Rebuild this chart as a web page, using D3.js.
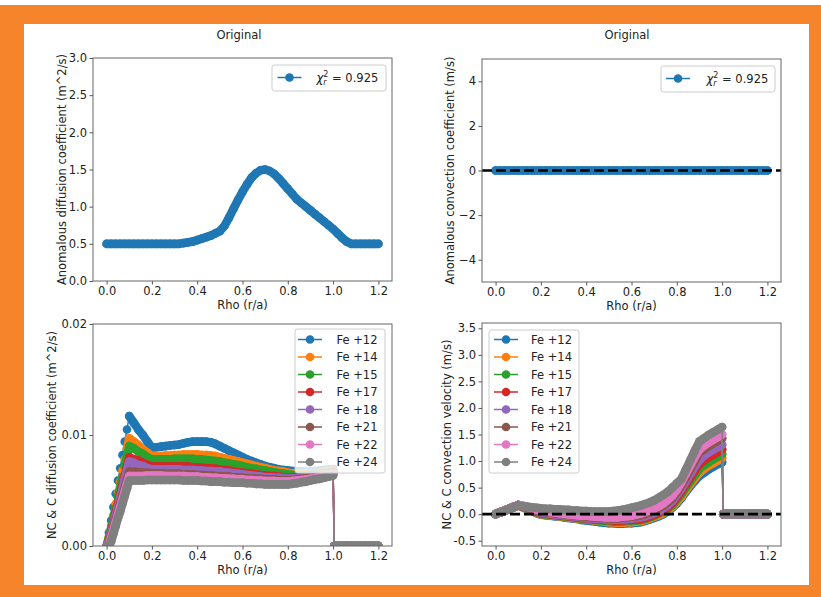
<!DOCTYPE html>
<html>
<head>
<meta charset="utf-8">
<title>Transport coefficients</title>
<script src="https://cdn.jsdelivr.net/npm/d3@7"></script>
<style>
  body { margin: 0; background: #fff; }
  svg text { font-family: "DejaVu Sans", sans-serif; fill: #222; }
</style>
</head>
<body>
<script>
// ---- data ----
var rhoTop = [0, 0.02, 0.04, 0.06, 0.08, 0.1, 0.12, 0.14, 0.16, 0.18, 0.2, 0.22, 0.24, 0.26, 0.28, 0.3,
  0.32, 0.34, 0.36, 0.38, 0.4, 0.42, 0.44, 0.46, 0.48, 0.5, 0.52, 0.54, 0.56, 0.58, 0.6, 0.62, 0.64,
  0.66, 0.68, 0.7, 0.72, 0.74, 0.76, 0.78, 0.8, 0.82, 0.84, 0.86, 0.88, 0.9, 0.92, 0.94, 0.96, 0.98,
  1.0, 1.02, 1.04, 1.06, 1.08, 1.1, 1.12, 1.14, 1.16, 1.18, 1.2];

// anomalous diffusion (m^2/s)
var dAnom = [0.5, 0.5, 0.5, 0.5, 0.5, 0.5, 0.5, 0.5, 0.5, 0.5, 0.5, 0.5, 0.5, 0.5, 0.5, 0.5, 0.5,
  0.51, 0.52, 0.53, 0.55, 0.57, 0.59, 0.61, 0.64, 0.67,
  0.74, 0.85, 0.97, 1.09, 1.2, 1.3, 1.39, 1.45, 1.49, 1.5,
  1.48, 1.44, 1.38, 1.31, 1.24, 1.17, 1.1, 1.05, 1.0, 0.95,
  0.9, 0.85, 0.8, 0.75, 0.7, 0.64, 0.58, 0.53, 0.5,
  0.5, 0.5, 0.5, 0.5, 0.5, 0.5];

// anomalous convection (m/s)
var vAnom = [0, 0, 0, 0, 0, 0, 0, 0, 0, 0, 0, 0, 0, 0, 0, 0, 0, 0, 0, 0, 0, 0, 0, 0, 0, 0, 0, 0, 0, 0,
  0, 0, 0, 0, 0, 0, 0, 0, 0, 0, 0, 0, 0, 0, 0, 0, 0, 0, 0, 0, 0, 0, 0, 0, 0, 0, 0, 0, 0, 0, 0];

var chiLabel = "0.925";

var rhoNC = [0, 0.01, 0.02, 0.03, 0.04, 0.05, 0.06, 0.07, 0.08, 0.09, 0.1,
  0.12, 0.14, 0.16, 0.18, 0.2,
  0.22, 0.24, 0.26, 0.28, 0.3, 0.32, 0.34, 0.36, 0.38, 0.4,
  0.42, 0.44, 0.46, 0.48, 0.5, 0.52, 0.54, 0.56, 0.58, 0.6,
  0.62, 0.64, 0.66, 0.68, 0.7, 0.72, 0.74, 0.76, 0.78, 0.8,
  0.82, 0.84, 0.86, 0.88, 0.9, 0.92, 0.94, 0.96, 0.98, 1.0,
  1.005, 1.02, 1.04, 1.06, 1.08, 1.1, 1.12, 1.14, 1.16, 1.18, 1.2];

var ionNames = ["Fe +12", "Fe +14", "Fe +15", "Fe +17", "Fe +18", "Fe +21", "Fe +22", "Fe +24"];
var ionColors = ["#1f77b4", "#ff7f0e", "#2ca02c", "#d62728", "#9467bd", "#8c564b", "#e377c2", "#7f7f7f"];

// NC & C diffusion, in units of 1e-3 m^2/s
var dFe12 = [0, 1.2, 2.3, 3.5, 4.7, 5.9, 7.0, 8.2, 9.4, 10.5, 11.7,
  11.1, 10.5, 10.0, 9.4, 8.85,
  8.9, 8.95, 9.0, 9.05, 9.1, 9.15, 9.25, 9.35, 9.4, 9.4,
  9.4, 9.4, 9.35, 9.2, 9.0, 8.8, 8.6, 8.4, 8.2, 8.0,
  7.8, 7.65, 7.5, 7.35, 7.2, 7.1, 7.0, 6.9, 6.85, 6.8,
  6.75, 6.7, 6.7, 6.7, 6.7, 6.75, 6.8, 6.85, 6.9, 6.9,
  0, 0, 0, 0, 0, 0, 0, 0, 0, 0, 0];
var dFe14 = [0, 0.8, 1.8, 2.8, 3.8, 4.8, 5.8, 6.8, 7.8, 8.8, 9.7,
  9.4, 9.1, 8.7, 8.4, 8.1,
  8.1, 8.1, 8.15, 8.15, 8.2, 8.2, 8.25, 8.25, 8.25, 8.25,
  8.2, 8.2, 8.15, 8.1, 8.0, 7.9, 7.8, 7.7, 7.6, 7.5,
  7.4, 7.3, 7.2, 7.1, 7.0, 6.9, 6.8, 6.75, 6.7, 6.6,
  6.55, 6.5, 6.5, 6.5, 6.5, 6.55, 6.6, 6.7, 6.75, 6.8,
  0, 0, 0, 0, 0, 0, 0, 0, 0, 0, 0];
var dFe15 = [0, 0.7, 1.6, 2.5, 3.4, 4.4, 5.3, 6.2, 7.2, 8.1, 9.0,
  8.8, 8.5, 8.3, 8.0, 7.8,
  7.8, 7.8, 7.8, 7.8, 7.85, 7.85, 7.85, 7.85, 7.85, 7.8,
  7.8, 7.75, 7.7, 7.65, 7.6, 7.5, 7.45, 7.35, 7.3, 7.2,
  7.1, 7.0, 6.95, 6.85, 6.8, 6.7, 6.65, 6.55, 6.5, 6.45,
  6.4, 6.4, 6.4, 6.4, 6.45, 6.5, 6.55, 6.6, 6.65, 6.7,
  0, 0, 0, 0, 0, 0, 0, 0, 0, 0, 0];
var dFe17 = [0, 0.5, 1.3, 2.1, 2.9, 3.8, 4.6, 5.4, 6.3, 7.1, 8.0,
  7.8, 7.7, 7.5, 7.3, 7.15,
  7.15, 7.15, 7.15, 7.15, 7.15, 7.15, 7.15, 7.15, 7.1, 7.1,
  7.05, 7.0, 7.0, 6.95, 6.9, 6.85, 6.8, 6.7, 6.65, 6.6,
  6.55, 6.5, 6.45, 6.4, 6.35, 6.3, 6.3, 6.25, 6.2, 6.2,
  6.2, 6.2, 6.2, 6.25, 6.3, 6.35, 6.4, 6.5, 6.55, 6.6,
  0, 0, 0, 0, 0, 0, 0, 0, 0, 0, 0];
var dFe18 = [0, 0.4, 1.2, 1.9, 2.7, 3.5, 4.3, 5.1, 6.0, 6.8, 7.6,
  7.5, 7.3, 7.2, 7.0, 6.9,
  6.9, 6.9, 6.9, 6.9, 6.9, 6.9, 6.85, 6.85, 6.85, 6.8,
  6.8, 6.75, 6.75, 6.7, 6.7, 6.65, 6.6, 6.55, 6.5, 6.45,
  6.4, 6.35, 6.3, 6.25, 6.2, 6.2, 6.15, 6.15, 6.1, 6.1,
  6.1, 6.1, 6.15, 6.2, 6.25, 6.3, 6.35, 6.45, 6.5, 6.55,
  0, 0, 0, 0, 0, 0, 0, 0, 0, 0, 0];
var dFe21 = [0, 0.2, 0.9, 1.6, 2.3, 3.0, 3.8, 4.5, 5.2, 6.0, 6.7,
  6.7, 6.65, 6.6, 6.6, 6.55,
  6.55, 6.55, 6.5, 6.5, 6.5, 6.5, 6.45, 6.45, 6.45, 6.4,
  6.4, 6.35, 6.35, 6.3, 6.3, 6.25, 6.25, 6.2, 6.2, 6.15,
  6.1, 6.1, 6.05, 6.05, 6.0, 6.0, 6.0, 5.95, 5.95, 5.95,
  5.95, 6.0, 6.05, 6.1, 6.15, 6.2, 6.25, 6.35, 6.4, 6.5,
  0, 0, 0, 0, 0, 0, 0, 0, 0, 0, 0];
var dFe22 = [0, 0.1, 0.7, 1.4, 2.1, 2.8, 3.5, 4.2, 4.9, 5.6, 6.3,
  6.3, 6.3, 6.3, 6.35, 6.35,
  6.35, 6.35, 6.3, 6.3, 6.3, 6.3, 6.3, 6.25, 6.25, 6.25,
  6.2, 6.2, 6.15, 6.15, 6.1, 6.1, 6.05, 6.05, 6.0, 6.0,
  5.95, 5.95, 5.9, 5.9, 5.85, 5.85, 5.85, 5.8, 5.8, 5.8,
  5.85, 5.9, 5.95, 6.0, 6.05, 6.1, 6.2, 6.3, 6.35, 6.45,
  0, 0, 0, 0, 0, 0, 0, 0, 0, 0, 0];
var dFe24 = [0, 0, 0.4, 1.1, 1.8, 2.5, 3.1, 3.8, 4.5, 5.2, 5.9,
  5.9, 5.9, 5.9, 5.95, 5.95,
  5.95, 5.95, 5.95, 5.95, 5.95, 5.95, 5.9, 5.9, 5.9, 5.9,
  5.85, 5.85, 5.8, 5.8, 5.8, 5.75, 5.75, 5.7, 5.7, 5.7,
  5.65, 5.65, 5.6, 5.6, 5.55, 5.55, 5.55, 5.55, 5.55, 5.55,
  5.6, 5.65, 5.75, 5.8, 5.9, 6.0, 6.05, 6.15, 6.25, 6.35,
  0, 0, 0, 0, 0, 0, 0, 0, 0, 0, 0];

// NC & C convection velocity (m/s)
var vFe12 = [0, 0.02, 0.03, 0.05, 0.07, 0.08, 0.1, 0.12, 0.13, 0.15, 0.17,
  0.13, 0.09, 0.06, 0.02, -0.01,
  -0.02, -0.03, -0.04, -0.05, -0.06, -0.07, -0.08, -0.09, -0.11, -0.12,
  -0.13, -0.14, -0.15, -0.16, -0.17, -0.17, -0.18, -0.18, -0.17, -0.17,
  -0.16, -0.15, -0.13, -0.1, -0.07, -0.04, 0.0, 0.05, 0.12, 0.2,
  0.3, 0.42, 0.53, 0.63, 0.72, 0.78, 0.84, 0.89, 0.94, 0.98,
  0, 0, 0, 0, 0, 0, 0, 0, 0, 0, 0];
var vFe14 = [0, 0.02, 0.03, 0.05, 0.07, 0.08, 0.1, 0.12, 0.13, 0.15, 0.17,
  0.13, 0.1, 0.07, 0.03, 0.0,
  -0.01, -0.02, -0.03, -0.04, -0.05, -0.06, -0.07, -0.08, -0.09, -0.1,
  -0.11, -0.12, -0.13, -0.14, -0.15, -0.15, -0.16, -0.16, -0.15, -0.15,
  -0.14, -0.13, -0.11, -0.08, -0.05, -0.02, 0.02, 0.07, 0.14, 0.23,
  0.33, 0.45, 0.57, 0.68, 0.78, 0.85, 0.91, 0.96, 1.01, 1.06,
  0, 0, 0, 0, 0, 0, 0, 0, 0, 0, 0];
var vFe15 = [0, 0.02, 0.03, 0.05, 0.07, 0.08, 0.1, 0.12, 0.14, 0.15, 0.17,
  0.14, 0.11, 0.08, 0.04, 0.01,
  0.0, -0.01, -0.02, -0.03, -0.04, -0.05, -0.06, -0.07, -0.08, -0.09,
  -0.1, -0.11, -0.12, -0.13, -0.13, -0.14, -0.14, -0.14, -0.13, -0.13,
  -0.12, -0.11, -0.09, -0.06, -0.03, 0.01, 0.05, 0.1, 0.17, 0.27,
  0.38, 0.5, 0.62, 0.74, 0.85, 0.92, 0.98, 1.03, 1.08, 1.13,
  0, 0, 0, 0, 0, 0, 0, 0, 0, 0, 0];
var vFe17 = [0, 0.02, 0.03, 0.05, 0.07, 0.08, 0.1, 0.12, 0.14, 0.15, 0.17,
  0.14, 0.12, 0.09, 0.05, 0.02,
  0.01, 0.0, -0.01, -0.02, -0.03, -0.04, -0.05, -0.06, -0.07, -0.08,
  -0.09, -0.1, -0.1, -0.11, -0.11, -0.12, -0.12, -0.12, -0.11, -0.11,
  -0.1, -0.09, -0.07, -0.04, -0.01, 0.03, 0.07, 0.13, 0.21, 0.31,
  0.43, 0.56, 0.69, 0.82, 0.94, 1.01, 1.07, 1.12, 1.17, 1.22,
  0, 0, 0, 0, 0, 0, 0, 0, 0, 0, 0];
var vFe18 = [0, 0.02, 0.03, 0.05, 0.07, 0.09, 0.1, 0.12, 0.14, 0.15, 0.17,
  0.15, 0.12, 0.1, 0.07, 0.03,
  0.02, 0.01, 0.0, -0.01, -0.02, -0.03, -0.04, -0.05, -0.06, -0.07,
  -0.08, -0.08, -0.09, -0.09, -0.1, -0.1, -0.1, -0.1, -0.09, -0.08,
  -0.07, -0.06, -0.04, -0.01, 0.02, 0.06, 0.11, 0.17, 0.25, 0.36,
  0.48, 0.62, 0.76, 0.9, 1.02, 1.1, 1.16, 1.21, 1.26, 1.31,
  0, 0, 0, 0, 0, 0, 0, 0, 0, 0, 0];
var vFe21 = [0, 0.02, 0.04, 0.05, 0.07, 0.09, 0.1, 0.12, 0.14, 0.15, 0.17,
  0.15, 0.13, 0.11, 0.08, 0.05,
  0.04, 0.03, 0.02, 0.01, 0.0, -0.01, -0.02, -0.03, -0.04, -0.05,
  -0.06, -0.06, -0.07, -0.07, -0.08, -0.08, -0.08, -0.07, -0.06, -0.05,
  -0.04, -0.02, 0.0, 0.03, 0.07, 0.11, 0.16, 0.22, 0.3, 0.41,
  0.54, 0.69, 0.85, 1.0, 1.16, 1.22, 1.28, 1.33, 1.38, 1.43,
  0, 0, 0, 0, 0, 0, 0, 0, 0, 0, 0];
var vFe22 = [0, 0.02, 0.04, 0.05, 0.07, 0.09, 0.1, 0.12, 0.14, 0.15, 0.17,
  0.16, 0.14, 0.12, 0.09, 0.06,
  0.05, 0.04, 0.03, 0.02, 0.01, 0.0, -0.01, -0.02, -0.03, -0.03,
  -0.04, -0.05, -0.05, -0.06, -0.06, -0.06, -0.06, -0.05, -0.04, -0.03,
  -0.01, 0.01, 0.04, 0.07, 0.11, 0.15, 0.2, 0.27, 0.35, 0.46,
  0.6, 0.76, 0.92, 1.08, 1.22, 1.29, 1.35, 1.4, 1.45, 1.5,
  0, 0, 0, 0, 0, 0, 0, 0, 0, 0, 0];
var vFe24 = [0, 0.02, 0.03, 0.05, 0.06, 0.08, 0.1, 0.11, 0.13, 0.15, 0.16,
  0.15, 0.14, 0.13, 0.12, 0.11,
  0.1, 0.1, 0.09, 0.09, 0.08, 0.08, 0.07, 0.07, 0.06, 0.06,
  0.05, 0.05, 0.05, 0.05, 0.05, 0.06, 0.07, 0.08, 0.1, 0.12,
  0.14, 0.16, 0.19, 0.22, 0.26, 0.31, 0.36, 0.42, 0.5, 0.58,
  0.66, 0.84, 1.02, 1.2, 1.37, 1.43, 1.49, 1.54, 1.59, 1.64,
  0, 0, 0, 0, 0, 0, 0, 0, 0, 0, 0];

var xTicks = [0, 0.2, 0.4, 0.6, 0.8, 1.0, 1.2];
var yTicksDAnom = [0, 0.5, 1, 1.5, 2, 2.5, 3];
var yTicksVAnom = [-4, -2, 0, 2, 4];
var yTicksDNC = [0, 0.01, 0.02];
var yTicksVNC = [-0.5, 0, 0.5, 1, 1.5, 2, 2.5, 3, 3.5];

var W = 821, H = 597;
var R = 4.3; // marker radius
var svg = d3.select("body").append("svg").attr("width", W).attr("height", H);

// orange frame around the figure
svg.append("rect").attr("x", 0).attr("y", 5).attr("width", W).attr("height", H - 5).attr("fill", "#f5842a");
svg.append("rect").attr("x", 24).attr("y", 24).attr("width", 785).attr("height", 561).attr("fill", "#fff");

var clipId = 0;

function panel(p) {
  var x = d3.scaleLinear().domain([-0.06, 1.26]).range([p.l, p.r]);
  var y = d3.scaleLinear().domain(p.yDomain).range([p.b, p.t]);
  var g = svg.append("g");

  clipId++;
  svg.append("clipPath").attr("id", "clip" + clipId)
    .append("rect").attr("x", p.l).attr("y", p.t).attr("width", p.r - p.l).attr("height", p.b - p.t);
  var plot = g.append("g").attr("clip-path", "url(#clip" + clipId + ")");

  var line = d3.line().x(function(d) { return x(d[0]); }).y(function(d) { return y(d[1]); });

  p.series.forEach(function(s) {
    var pts = p.rho.map(function(r, i) { return [r, s.values[i] * (p.k || 1)]; });
    // the original sampled the profile very finely, so the markers merge into a band
    // wherever the curve is gentle; join neighbouring markers there
    var band = "";
    for (var i = 1; i < pts.length; i++) {
      var dx = pts[i][0] - pts[i - 1][0];
      var dyPx = Math.abs(y(pts[i][1]) - y(pts[i - 1][1]));
      if (dyPx / (dx / 0.006) < 6) {
        band += "M" + x(pts[i - 1][0]) + "," + y(pts[i - 1][1]) + "L" + x(pts[i][0]) + "," + y(pts[i][1]);
      }
    }
    plot.append("path").attr("d", line(pts))
      .attr("fill", "none").attr("stroke", s.color).attr("stroke-width", 1.5);
    plot.append("path").attr("d", band)
      .attr("fill", "none").attr("stroke", s.color).attr("stroke-width", 2 * R)
      .attr("stroke-linecap", "round").attr("stroke-linejoin", "round");
    plot.selectAll(null).data(pts).enter().append("circle")
      .attr("cx", function(d) { return x(d[0]); })
      .attr("cy", function(d) { return y(d[1]); })
      .attr("r", R).attr("fill", s.color);
  });

  if (p.zeroLine) {
    plot.append("line").attr("x1", p.l).attr("x2", p.r + 2)
      .attr("y1", y(0)).attr("y2", y(0))
      .attr("stroke", "#000").attr("stroke-width", 2.6).attr("stroke-dasharray", "10 4");
  }

  // axes
  var xa = g.append("g").attr("transform", "translate(0," + p.b + ")")
    .call(d3.axisBottom(x).tickValues(xTicks).tickFormat(d3.format(".1f")).tickSize(3.5).tickPadding(2).tickSizeOuter(0));
  var ya = g.append("g").attr("transform", "translate(" + p.l + ",0)")
    .call(d3.axisLeft(y).tickValues(p.yTicks).tickFormat(p.yFmt).tickSize(3.5).tickPadding(2.5).tickSizeOuter(0));
  [xa, ya].forEach(function(a) {
    a.select(".domain").remove();
    a.selectAll("line").attr("stroke", "#555");
    a.selectAll("text").attr("font-size", 11.5).style("fill", "#222");
  });
  g.append("rect").attr("x", p.l).attr("y", p.t).attr("width", p.r - p.l).attr("height", p.b - p.t)
    .attr("fill", "none").attr("stroke", "#666").attr("stroke-width", 1);

  // labels
  g.append("text").attr("x", (p.l + p.r) / 2).attr("y", p.b + 24).attr("dy", "0.35em")
    .attr("text-anchor", "middle").attr("font-size", 11.5).text("Rho (r/a)");
  g.append("text").attr("transform", "translate(" + p.ylabX + "," + (p.t + p.b) / 2 + ") rotate(-90)")
    .attr("dy", "0.35em").attr("text-anchor", "middle").attr("font-size", 11.5).text(p.ylabel);
  if (p.title) {
    g.append("text").attr("x", p.titleX).attr("y", 35).attr("dy", "0.35em")
      .attr("text-anchor", "middle").attr("font-size", 11.5).text(p.title);
  }

  // legend
  var L = p.legend;
  var lg = g.append("g");
  lg.append("rect").attr("x", L.x).attr("y", L.y).attr("width", L.w).attr("height", L.h)
    .attr("rx", 2.5).attr("fill", "#fff").attr("fill-opacity", 0.8)
    .attr("stroke", "#cccccc").attr("stroke-width", 1);
  p.series.forEach(function(s, i) {
    var cy = L.y0 + i * 17.5;
    lg.append("line").attr("x1", L.mx - 12).attr("x2", L.mx + 12).attr("y1", cy).attr("y2", cy)
      .attr("stroke", s.color).attr("stroke-width", 1.5);
    lg.append("circle").attr("cx", L.mx).attr("cy", cy).attr("r", R).attr("fill", s.color);
    var t = lg.append("text").attr("x", L.tx).attr("y", cy).attr("dy", "0.35em").attr("font-size", 11.5);
    if (s.chi) {
      t.append("tspan").attr("font-style", "italic").text("\u03c7");
      t.append("tspan").attr("font-style", "italic").attr("font-size", 8).attr("dy", 3).text("r");
      t.append("tspan").attr("font-size", 8).attr("dx", -3.3).attr("dy", -8).text("2");
      t.append("tspan").attr("dy", 5).text(" = " + s.chi);
    } else {
      t.text(s.name);
    }
  });
}

function ionSeries(arrs) {
  return arrs.map(function(a, i) { return { name: ionNames[i], color: ionColors[i], values: a }; });
}

panel({
  l: 93, t: 58, r: 392, b: 281, yDomain: [0, 3], yTicks: yTicksDAnom, yFmt: d3.format(".1f"),
  rho: rhoTop, series: [{ color: ionColors[0], values: dAnom, chi: chiLabel }],
  ylabel: "Anomalous diffusion coefficient (m^2/s)", ylabX: 62, title: "Original", titleX: 239,
  legend: { x: 272, y: 65, w: 114, h: 26, y0: 77.5, mx: 289.5, tx: 316.5 }
});

panel({
  l: 482, t: 59, r: 781, b: 282, yDomain: [-5, 5], yTicks: yTicksVAnom, yFmt: d3.format("d"),
  rho: rhoTop, series: [{ color: ionColors[0], values: vAnom, chi: chiLabel }], zeroLine: true,
  ylabel: "Anomalous convection coefficient (m/s)", ylabX: 450, title: "Original", titleX: 627,
  legend: { x: 661, y: 66, w: 114, h: 26, y0: 78.5, mx: 678, tx: 706.5 }
});

panel({
  l: 93, t: 324, r: 392, b: 546, yDomain: [0, 0.02], yTicks: yTicksDNC, yFmt: d3.format(".2f"), k: 1e-3,
  rho: rhoNC, series: ionSeries([dFe12, dFe14, dFe15, dFe17, dFe18, dFe21, dFe22, dFe24]),
  ylabel: "NC & C diffusion coefficient (m^2/s)", ylabX: 52,
  legend: { x: 295, y: 329, w: 90, h: 144, y0: 339.5, mx: 310, tx: 336.5 }
});

panel({
  l: 482, t: 323, r: 781, b: 546, yDomain: [-0.6, 3.6], yTicks: yTicksVNC,
  yFmt: function(d) { return d.toFixed(1); }, zeroLine: true,
  rho: rhoNC, series: ionSeries([vFe12, vFe14, vFe15, vFe17, vFe18, vFe21, vFe22, vFe24]),
  ylabel: "NC & C convection velocity (m/s)", ylabX: 447,
  legend: { x: 489, y: 330, w: 90, h: 143, y0: 339.5, mx: 506, tx: 531 }
});
</script>
</body>
</html>
